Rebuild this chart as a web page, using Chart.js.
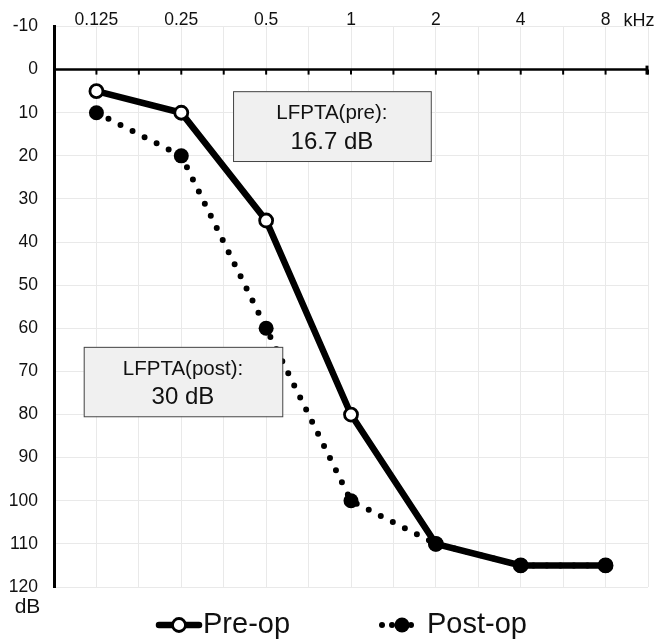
<!DOCTYPE html>
<html>
<head>
<meta charset="utf-8">
<script src="https://cdn.jsdelivr.net/npm/chart.js@4.4.1/dist/chart.umd.min.js"></script>
<style>
  html, body { margin: 0; padding: 0; background: #fff; }
  canvas { display: block; }
</style>
</head>
<body>
<canvas id="audiogram" width="658" height="640"></canvas>
<script>
// Audiogram values (dB HL per frequency).
const freqLabels = ["0.125", "0.25", "0.5", "1", "2", "4", "8"];
const preOp = [5, 10, 35, 80, 110, 115, 115];
const postOp = [10, 20, 60, 100, 110, 115, 115];
const seriesNames = ["Pre-op", "Post-op"];
const lfptaPre = ["LFPTA(pre):", "16.7 dB"];
const lfptaPost = ["LFPTA(post):", "30 dB"];

const fontStack = "'Liberation Sans', Arial, Helvetica, sans-serif";
const ink = "#111";
const gridColor = "#e9e9e9";

// Annotation boxes in data units (x = frequency index, y = dB).
const boxes = [
  { lines: lfptaPre, x0: 1.61, x1: 3.94, y0: 5.0, y1: 21.2 },
  { lines: lfptaPost, x0: -0.15, x1: 2.19, y0: 64.3, y1: 80.4 },
];

function toPoints(values) {
  return values.map((v, i) => ({ x: i, y: v }));
}

// Thick 0 dB line with its small tick marks, the note boxes, unit labels and
// the legend (line + marker sample, like the original figure).
const decor = {
  id: "decor",
  beforeDatasetsDraw(chart) {
    const { ctx, chartArea, scales: { x, y } } = chart;
    const y0 = y.getPixelForValue(0);
    ctx.save();
    ctx.strokeStyle = "#000";
    ctx.lineWidth = 2.5;
    ctx.beginPath();
    ctx.moveTo(chartArea.left, y0);
    ctx.lineTo(chartArea.right, y0);
    ctx.stroke();
    ctx.lineWidth = 2;
    x.ticks.forEach((t) => {
      const px = x.getPixelForValue(t.value);
      ctx.beginPath();
      ctx.moveTo(px, y0);
      ctx.lineTo(px, y0 + 5);
      ctx.stroke();
    });
    ctx.lineWidth = 3;
    ctx.beginPath();
    ctx.moveTo(chartArea.right - 1, y0 - 4);
    ctx.lineTo(chartArea.right - 1, y0 + 5);
    ctx.stroke();
    ctx.restore();
  },
  afterDatasetsDraw(chart) {
    const { ctx, scales: { x, y } } = chart;
    ctx.save();
    boxes.forEach((b) => {
      const left = x.getPixelForValue(b.x0);
      const right = x.getPixelForValue(b.x1);
      const top = y.getPixelForValue(b.y0);
      const bottom = y.getPixelForValue(b.y1);
      ctx.fillStyle = "#f0f0f0";
      ctx.fillRect(left, top, right - left, bottom - top);
      ctx.strokeStyle = "#444";
      ctx.lineWidth = 1;
      ctx.strokeRect(left + 0.5, top + 0.5, right - left, bottom - top);
      const cx = (left + right) / 2;
      const cy = (top + bottom) / 2;
      ctx.fillStyle = ink;
      ctx.textAlign = "center";
      ctx.textBaseline = "middle";
      ctx.font = "20.5px " + fontStack;
      ctx.fillText(b.lines[0], cx, cy - 12.5);
      ctx.font = "24px " + fontStack;
      ctx.fillText(b.lines[1], cx, cy + 16);
    });
    ctx.restore();
  },
  afterDraw(chart) {
    const { ctx } = chart;
    const [pre, post] = chart.data.datasets;
    ctx.save();
    ctx.fillStyle = ink;
    ctx.textBaseline = "alphabetic";
    ctx.textAlign = "center";
    ctx.font = "18px " + fontStack;
    ctx.fillText("kHz", 639, 26);
    ctx.font = "21px " + fontStack;
    ctx.fillText("dB", 27.5, 613);

    // legend
    const ly = 625;
    ctx.strokeStyle = pre.borderColor;
    ctx.lineCap = "round";
    ctx.lineWidth = pre.borderWidth;
    ctx.beginPath();
    ctx.moveTo(159, ly);
    ctx.lineTo(199, ly);
    ctx.stroke();
    ctx.beginPath();
    ctx.arc(179, ly, pre.pointRadius, 0, Math.PI * 2);
    ctx.fillStyle = pre.pointBackgroundColor;
    ctx.fill();
    ctx.lineWidth = pre.pointBorderWidth;
    ctx.strokeStyle = pre.pointBorderColor;
    ctx.stroke();

    ctx.fillStyle = post.pointBackgroundColor;
    [382, 392, 411].forEach((dx) => {
      ctx.beginPath();
      ctx.arc(dx, ly, post.borderWidth / 2, 0, Math.PI * 2);
      ctx.fill();
    });
    ctx.beginPath();
    ctx.arc(402, ly, post.pointRadius, 0, Math.PI * 2);
    ctx.fill();

    ctx.fillStyle = ink;
    ctx.textAlign = "left";
    ctx.font = "29px " + fontStack;
    ctx.fillText(seriesNames[0], 203, 633);
    ctx.fillText(seriesNames[1], 427, 633);
    ctx.restore();
  },
};

new Chart(document.getElementById("audiogram"), {
  type: "line",
  data: {
    datasets: [
      {
        label: seriesNames[0],
        data: toPoints(preOp),
        borderColor: "#000",
        borderWidth: 6.5,
        pointRadius: 6.5,
        pointBorderWidth: 2.8,
        pointBackgroundColor: "#fff",
        pointBorderColor: "#000",
        tension: 0,
        order: 1,
      },
      {
        label: seriesNames[1],
        data: toPoints(postOp),
        borderColor: "#000",
        borderWidth: 6,
        borderDash: [0, 13.5],
        borderCapStyle: "round",
        pointRadius: 7.5,
        pointBorderWidth: 0,
        pointBackgroundColor: "#000",
        pointBorderColor: "#000",
        tension: 0,
        order: 0,
      },
    ],
  },
  options: {
    responsive: false,
    devicePixelRatio: 1,
    animation: false,
    events: [],
    layout: { padding: { top: 0, right: 10, bottom: 53, left: 0 } },
    plugins: {
      legend: { display: false },
      tooltip: { enabled: false },
    },
    scales: {
      x: {
        type: "linear",
        position: "top",
        min: -0.5,
        max: 6.5,
        afterFit: (s) => { s.height = 25; },
        ticks: {
          stepSize: 0.5,
          autoSkip: false,
          maxTicksLimit: 100,
          maxRotation: 0,
          padding: -4,
          color: ink,
          font: { family: fontStack, size: 17.5 },
          callback: (v) => (Number.isInteger(v) ? freqLabels[v] : ""),
        },
        grid: { color: gridColor, lineWidth: 1, drawTicks: false },
        border: { display: false },
      },
      y: {
        reverse: true,
        min: -10,
        max: 120,
        afterFit: (s) => { s.width = 54; },
        ticks: {
          stepSize: 10,
          autoSkip: false,
          maxTicksLimit: 100,
          padding: 16,
          color: ink,
          font: { family: fontStack, size: 17.5 },
        },
        grid: { color: gridColor, lineWidth: 1, drawTicks: false },
        border: { display: true, color: "#000", width: 3 },
      },
    },
  },
  plugins: [decor],
});
</script>
</body>
</html>
